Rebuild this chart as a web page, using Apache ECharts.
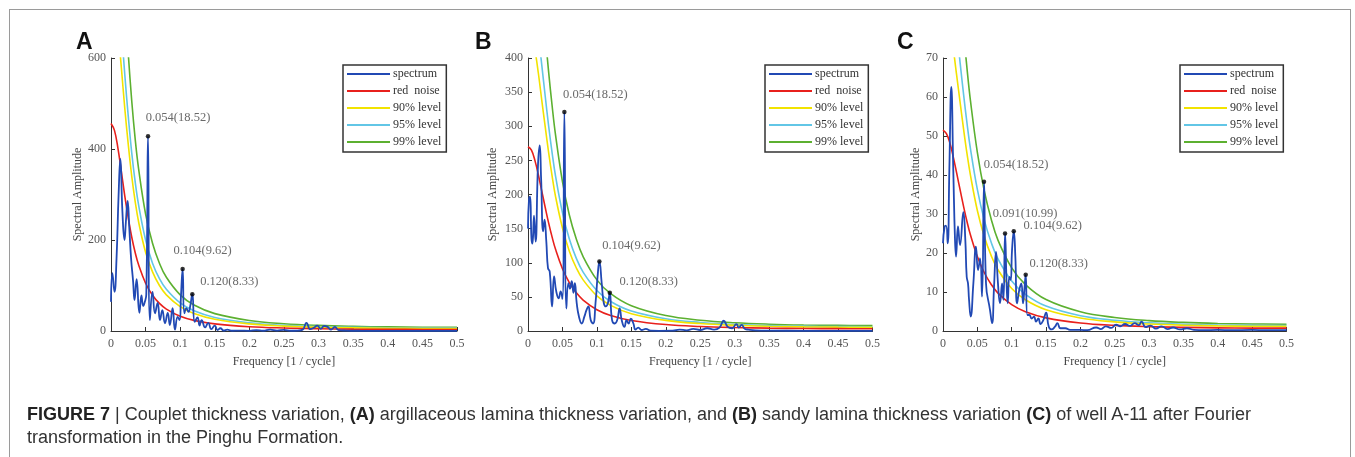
<!DOCTYPE html>
<html><head><meta charset="utf-8">
<script src="https://cdn.jsdelivr.net/npm/echarts@6/dist/echarts.min.js"></script>
<style>
html,body{margin:0;padding:0;background:#fff;}
#wrap{position:relative;width:1355px;height:457px;overflow:hidden;}
#frame{position:absolute;left:9px;top:9px;width:1342px;height:460px;border:1px solid #9a9a9a;box-sizing:border-box;}
#chart{position:absolute;left:0;top:0;width:1355px;height:457px;}
#cap{position:absolute;left:27px;top:403px;font-family:'Liberation Sans',Arial,sans-serif;font-size:18px;line-height:23px;color:#333;white-space:nowrap;}
#cap b{color:#222;}
</style></head>
<body><div id="wrap"><div id="frame"></div><div id="chart"></div>
<div id="cap"><b>FIGURE 7</b> | Couplet thickness variation, <b>(A)</b> argillaceous lamina thickness variation, and <b>(B)</b> sandy lamina thickness variation <b>(C)</b> of well A-11 after Fourier<br>transformation in the Pinghu Formation.</div>
</div>
<script>
// ---------- data ----------
const xTicks = [0,0.05,0.1,0.15,0.2,0.25,0.3,0.35,0.4,0.45,0.5];
const legendNames = ['spectrum','red  noise','90% level','95% level','99% level'];
const curveFreq = [0,0.005,0.01,0.015,0.02,0.025,0.03,0.035,0.04,0.05,0.06,0.07,0.08,0.1,0.12,0.15,0.2,0.25,0.3,0.35,0.4,0.45,0.5];

// Panel A
const freqA = [0,0.002,0.005,0.008,0.011,0.0135,0.0165,0.0195,0.0215,0.024,0.0265,0.029,0.032,0.034,0.037,0.041,0.044,0.0465,0.0485,0.051,0.0535,0.0562,0.060,0.0636,0.0674,0.0708,0.0742,0.078,0.082,0.085,0.089,0.0925,0.0963,0.099,0.1012,0.1035,0.106,0.109,0.112,0.1145,0.1175,0.121,0.125,0.128,0.131,0.136,0.1405,0.145,0.150,0.154,0.158,0.163,0.168,0.175,0.185,0.2,0.21,0.22,0.23,0.24,0.25,0.26,0.27,0.277,0.2825,0.288,0.293,0.298,0.303,0.308,0.313,0.318,0.3235,0.329,0.34,0.36,0.4,0.45,0.5];
const ampA = [64,127,86,160,300,378,262,200,240,286,225,160,108,68,114,40,78,55,62,80,428,24,86,39,62,24,46,17,40,13,50,3,31,24,80,136,39,50,42,55,81,20,30,12,24,8,18,4,12,2,6,1,3,0.5,1,0.3,2,0.5,3,1,2.5,0.5,1,3,18,4,7,12,5,11,9,3,9,2,1,0.5,0.3,0.2,0.2];
const redA   = [456,441,402,350,296,248,206,172,145,105,78.6,60.7,48.2,32.4,23.3,15.6,9.45,6.57,5.04,4.16,3.66,3.39,3.31];
const lvl90A = [752,728,663,578,488,409,340,284,239,173,130,100,79.5,53.5,38.4,25.7,15.6,10.8,8.3,6.9,6.0,5.6,5.5];
const lvl95A = [866,838,764,665,562,471,391,327,276,200,149,115,91.6,61.6,44.3,29.6,18.0,12.5,9.6,7.9,7.0,6.4,6.3];
const lvl99A = [1117,1080,985,858,725,608,505,421,355,257,193,149,118,79.4,57.1,38.2,23.2,16.1,12.3,10.2,9.0,8.3,8.1];
const peakFreqA = [0.0535,0.1035,0.1175];
const peakAmpA  = [428,136,81];
const peakTextA = ['0.054(18.52)','0.104(9.62)','0.120(8.33)'];

// Panel B
const freqB = [0,0.0015,0.003,0.005,0.0065,0.0087,0.011,0.0145,0.017,0.019,0.022,0.024,0.0266,0.029,0.0315,0.035,0.0378,0.041,0.0445,0.0474,0.050,0.0528,0.0557,0.0587,0.061,0.0635,0.066,0.068,0.0707,0.074,0.078,0.0818,0.085,0.0876,0.091,0.0944,0.098,0.101,0.1036,0.107,0.110,0.113,0.116,0.1187,0.122,0.126,0.1295,0.133,0.136,0.140,0.143,0.146,0.1493,0.153,0.156,0.160,0.165,0.171,0.178,0.19,0.21,0.22,0.23,0.24,0.25,0.26,0.27,0.278,0.284,0.29,0.296,0.3025,0.306,0.31,0.315,0.32,0.33,0.35,0.4,0.45,0.5];
const ampB = [150,194,197,136,128,169,131,243,272,224,146,163,131,92,87,36,80,58,48,58,47,321,33,70,62,73,56,70,41,21,11,21,31,36,16,11,41,80,102,70,41,36,41,56,16,11,16,33,16,6,16,11,18,11,2,5,1.5,3,0.5,0.3,0.5,2,1,3,1.5,4,2,5,15,6,4,10,5,9,3,2,1,0.5,0.3,0.2,0.2];
const redB   = [270,265,250,229,205,181,158,137.5,119.6,91.3,70.9,56.2,45.4,31.2,22.8,15.4,9.43,6.59,5.06,4.18,3.68,3.42,3.33];
const lvl90B = [445.5,437,412.5,378,338,299,261,227,197,151,117,92.7,74.9,51.5,37.6,25.4,15.6,10.9,8.35,6.9,6.07,5.64,5.49];
const lvl95B = [513,503.5,475,435,389.5,344,300,261,227,173.5,134.7,106.8,86.3,59.3,43.3,29.3,17.9,12.5,9.6,7.9,7.0,6.5,6.3];
const lvl99B = [648,636,600,550,492,434,379,330,287,219,170,135,109,74.9,54.7,37,22.6,15.8,12.1,10.0,8.8,8.2,8.0];
const peakFreqB = [0.0528,0.1036,0.1187];
const peakAmpB  = [321,102,56];
const peakTextB = ['0.054(18.52)','0.104(9.62)','0.120(8.33)'];

// Panel C
const freqC = [0,0.0024,0.0044,0.0068,0.0092,0.0121,0.015,0.0175,0.019,0.0218,0.0248,0.0296,0.0325,0.0345,0.0364,0.0379,0.0403,0.0442,0.048,0.051,0.0539,0.0568,0.0597,0.0626,0.0684,0.0714,0.0743,0.0772,0.080,0.083,0.086,0.088,0.0903,0.0927,0.0942,0.0966,0.0985,0.1005,0.103,0.1053,0.1078,0.111,0.114,0.1165,0.1184,0.1204,0.1228,0.1257,0.129,0.1325,0.1354,0.1388,0.142,0.146,0.150,0.154,0.158,0.163,0.1665,0.171,0.178,0.185,0.2,0.21,0.223,0.23,0.237,0.245,0.252,0.258,0.265,0.272,0.279,0.285,0.289,0.295,0.302,0.31,0.318,0.327,0.335,0.345,0.355,0.365,0.38,0.4,0.42,0.45,0.47,0.5];
const ampC = [22.5,26.8,27,22.5,41,62.6,41,23.3,19.1,26.8,22,30.5,23.3,13.9,12.2,8,3.7,12.2,21.6,15.6,18.6,8.8,38.3,12.2,5.4,2,11.4,20.3,12.2,7.1,12.2,8,25,11.4,7.1,13.9,13.1,20.8,25.6,19.1,7.1,10.5,12.2,7.1,10.5,14.4,4.1,4.1,3.2,3.7,2.4,3.2,1.8,2.8,4.7,1.1,0.4,1.1,2,0.7,0.7,0.3,0.3,0.2,0.9,0.5,1.2,0.8,1.6,1.2,1.8,1.3,2.0,1.5,2.4,1.0,1.4,0.6,1.2,0.5,0.9,0.4,0.7,0.3,0.2,0.3,0.2,0.3,0.2,0.2];
const redC   = [51.5,50.6,48.2,44.6,40.4,36.1,31.9,28.0,24.6,19.1,15.0,12.0,9.72,6.75,4.94,3.36,2.06,1.44,1.11,0.92,0.81,0.75,0.73];
const lvl90C = [83.4,82.0,78.1,72.3,65.4,58.5,51.7,45.4,39.9,30.9,24.3,19.4,15.7,10.9,8.0,5.44,3.34,2.33,1.80,1.49,1.31,1.22,1.18];
const lvl95C = [97.9,96.1,91.6,84.7,76.8,68.6,60.6,53.2,46.7,36.3,28.5,22.8,18.5,12.8,9.39,6.38,3.91,2.74,2.11,1.75,1.54,1.43,1.39];
const lvl99C = [123.6,121.4,115.7,107,97,86.6,76.6,67.2,59.0,45.8,36.0,28.8,23.3,16.2,11.9,8.06,4.94,3.46,2.66,2.21,1.94,1.80,1.75];
const peakFreqC = [0.0597,0.0903,0.103,0.1204];
const peakAmpC  = [38.3,25,25.6,14.4];
const peakTextC = ['0.054(18.52)','0.091(10.99)','0.104(9.62)','0.120(8.33)'];

const yMax = [600,400,70];
const yInterval = [200,50,10];

// ---------- layout / style ----------
const COLORS = {spec:'#2149b4', red:'#e8201c', y90:'#f2e300', y95:'#62c6e6', y99:'#5cb030'};
const SERIF = "'Liberation Serif','DejaVu Serif',serif";
const panels = [
  {freq:freqA, amp:ampA, red:redA, l90:lvl90A, l95:lvl95A, l99:lvl99A, pf:peakFreqA, pa:peakAmpA, pt:peakTextA,
   grid:{left:111, width:346}, legendLeft:343, letter:'A', letterLeft:71, nameGap:27,
   offsets:[[30,-19],[20,-18],[37,-12]]},
  {freq:freqB, amp:ampB, red:redB, l90:lvl90B, l95:lvl95B, l99:lvl99B, pf:peakFreqB, pa:peakAmpB, pt:peakTextB,
   grid:{left:528, width:344.5}, legendLeft:765, letter:'B', letterLeft:470, nameGap:29,
   offsets:[[31,-17],[32,-16],[39,-11]]},
  {freq:freqC, amp:ampC, red:redC, l90:lvl90C, l95:lvl95C, l99:lvl99C, pf:peakFreqC, pa:peakAmpC, pt:peakTextC,
   grid:{left:943, width:343.5}, legendLeft:1180, letter:'C', letterLeft:892, nameGap:21,
   offsets:[[32,-17],[20,-20],[39,-5],[33,-11]]}
];

const zip = (xs, ys) => xs.map((x, i) => [x, ys[i]]);
const grid = [], xAxis = [], yAxis = [], series = [], legend = [], title = [];
const axisFont = {fontFamily:SERIF, fontSize:12, color:'#555'};

panels.forEach((p, i) => {
  grid.push({left:p.grid.left, width:p.grid.width, top:58, height:273, containLabel:false});
  xAxis.push({type:'value', gridIndex:i, min:0, max:0.5, interval:0.05,
    name:'Frequency [1 / cycle]', nameLocation:'middle', nameGap:25,
    nameTextStyle:{fontFamily:SERIF, fontSize:12, color:'#444'},
    axisLine:{lineStyle:{color:'#333', width:1}},
    axisTick:{inside:true, length:4, lineStyle:{color:'#333'}},
    axisLabel:Object.assign({margin:7, showMaxLabel:true, showMinLabel:true}, axisFont),
    splitLine:{show:false}});
  yAxis.push({type:'value', gridIndex:i, min:0, max:yMax[i], interval:yInterval[i],
    name:'Spectral Amplitude', nameLocation:'middle', nameGap:p.nameGap,
    nameTextStyle:{fontFamily:SERIF, fontSize:12, color:'#444'},
    axisLine:{show:true, lineStyle:{color:'#333', width:1}},
    axisTick:{show:true, inside:true, length:4, lineStyle:{color:'#333'}},
    axisLabel:Object.assign({margin:5}, axisFont),
    splitLine:{show:false}});
  const base = {type:'line', xAxisIndex:i, yAxisIndex:i, showSymbol:false, symbol:'none', clip:true, animation:false};
  series.push(Object.assign({}, base, {name:legendNames[4], data:zip(curveFreq, p.l99), smooth:0.4, lineStyle:{color:COLORS.y99, width:1.6}, itemStyle:{color:COLORS.y99}, z:2}));
  series.push(Object.assign({}, base, {name:legendNames[3], data:zip(curveFreq, p.l95), smooth:0.4, lineStyle:{color:COLORS.y95, width:1.6}, itemStyle:{color:COLORS.y95}, z:2}));
  series.push(Object.assign({}, base, {name:legendNames[2], data:zip(curveFreq, p.l90), smooth:0.4, lineStyle:{color:COLORS.y90, width:1.6}, itemStyle:{color:COLORS.y90}, z:2}));
  series.push(Object.assign({}, base, {name:legendNames[1], data:zip(curveFreq, p.red), smooth:0.4, lineStyle:{color:COLORS.red, width:1.6}, itemStyle:{color:COLORS.red}, z:3}));
  series.push(Object.assign({}, base, {name:legendNames[0], data:zip(p.freq, p.amp), smooth:0.5, lineStyle:{color:COLORS.spec, width:1.8}, itemStyle:{color:COLORS.spec}, z:4}));
  series.push({type:'scatter', name:'peaks', xAxisIndex:i, yAxisIndex:i, symbol:'circle', symbolSize:4.5,
    itemStyle:{color:'#000'}, z:6, animation:false,
    data:p.pf.map((f, k) => ({value:[f, p.pa[k]], label:{show:true, formatter:p.pt[k], position:'inside', offset:p.offsets[k],
      fontFamily:SERIF, fontSize:12.5, color:'#444'}}))});
  legend.push({orient:'vertical', left:p.legendLeft, top:65, data:legendNames,
    icon:'rect', itemWidth:43, itemHeight:2, itemGap:3,
    padding:[2,5,3,4], borderColor:'#333', borderWidth:1.5, backgroundColor:'#fff',
    selectedMode:false,
    textStyle:{fontFamily:SERIF, fontSize:12, color:'#333', lineHeight:14, padding:[0,0,0,-2]}});
  title.push({text:p.letter, left:p.letterLeft, top:26,
    textStyle:{fontFamily:"'Liberation Sans',Arial,sans-serif", fontWeight:'bold', fontSize:23, color:'#111'}});
});

const chart = echarts.init(document.getElementById('chart'), null, {renderer:'canvas'});
chart.setOption({animation:false, backgroundColor:'transparent', title, grid, xAxis, yAxis, legend, series});
</script>
</body></html>
